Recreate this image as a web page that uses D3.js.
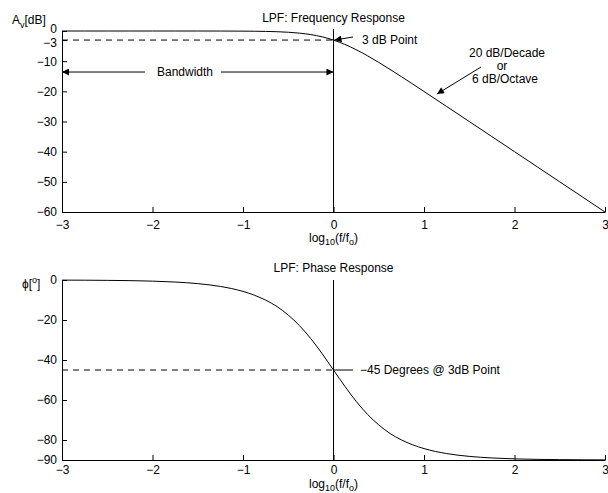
<!DOCTYPE html>
<html><head><meta charset="utf-8">
<script src="https://cdn.jsdelivr.net/npm/d3@7"></script>
<style>
body{margin:0;background:#fff;}
text{font-family:"Liberation Sans",Arial,sans-serif;font-size:12px;fill:#000;}
</style></head>
<body>
<script>
// ---- data ----
const xTicks = [-3, -2, -1, 0, 1, 2, 3];
const xTickLabels = ["\u22123", "\u22122", "\u22121", "0", "1", "2", "3"];
const magTicks = [0, -3, -10, -20, -30, -40, -50, -60];
const magTickLabels = ["0", "\u22123", "\u221210", "\u221220", "\u221230", "\u221240", "\u221250", "\u221260"];
const phaseTicks = [0, -20, -40, -60, -80, -90];
const phaseTickLabels = ["0", "\u221220", "\u221240", "\u221260", "\u221280", "\u221290"];
// sampled response: log10(f/fo), magnitude in dB, phase in degrees
const logF = [-3,-2.75,-2.5,-2.25,-2,-1.75,-1.5,-1.25,-1,-0.875,-0.75,-0.625,-0.5,-0.375,-0.25,-0.125,0,0.125,0.25,0.375,0.5,0.625,0.75,0.875,1,1.25,1.5,1.75,2,2.25,2.5,2.75,3];
const magDb = [0,0,0,-0.0001,-0.0004,-0.0014,-0.0043,-0.0137,-0.0432,-0.0766,-0.1352,-0.2376,-0.4139,-0.711,-1.193,-1.938,-3.0103,-4.437,-6.193,-8.21,-10.414,-12.737,-15.135,-17.576,-20.043,-25.014,-30.004,-35.001,-40.0004,-45.0001,-50,-55,-60];
const phaseDeg = [-0.06,-0.1,-0.18,-0.32,-0.57,-1.02,-1.81,-3.22,-5.71,-7.59,-10.06,-13.26,-17.55,-22.86,-29.36,-36.87,-45,-53.13,-60.64,-67.14,-72.45,-76.74,-79.94,-82.41,-84.29,-86.78,-88.19,-88.98,-89.43,-89.68,-89.82,-89.9,-89.94];

const W = 608, H = 493;
const svg = d3.select("body").append("svg").attr("width", W).attr("height", H);

const x = d3.scaleLinear().domain([-3, 3]).range([62, 605]);
const yMag = d3.scaleLinear().domain([-60, 0]).range([212, 31]);
const yPh = d3.scaleLinear().domain([-90, 0]).range([460, 280]);

svg.append("defs").append("marker").attr("id", "ah").attr("viewBox", "0 0 10 10")
  .attr("refX", 10).attr("refY", 5).attr("markerWidth", 10).attr("markerHeight", 7)
  .attr("markerUnits", "userSpaceOnUse").attr("orient", "auto-start-reverse")
  .append("path").attr("d", "M0,0 L10,5 L0,10 z").attr("fill", "#000");

function panel(y, yTicks, yLabels, yBottom, title, titleY, xlY, pad) {
  const g = svg.append("g");
  const xa = d3.axisBottom(x).tickValues(xTicks).tickFormat((d, i) => xTickLabels[i]).tickSizeInner(-5).tickSizeOuter(0).tickPadding(pad);
  const gx = g.append("g").attr("transform", `translate(0,${yBottom})`).call(xa);
  gx.selectAll("text").attr("font-size", 12).attr("fill", "#000").attr("font-family", "Liberation Sans, Arial, sans-serif");
  const ya = d3.axisLeft(y).tickValues(yTicks).tickFormat((d, i) => yLabels[i]).tickSizeInner(-5).tickSizeOuter(0).tickPadding(5);
  const gy = g.append("g").attr("transform", `translate(62,0)`).call(ya);
  gy.selectAll("text").attr("font-size", 12).attr("fill", "#000").attr("font-family", "Liberation Sans, Arial, sans-serif");
  g.append("text").attr("x", x(0)).attr("y", titleY).attr("text-anchor", "middle").text(title);
  const xl = g.append("text").attr("x", x(0)).attr("y", xlY).attr("text-anchor", "middle");
  xl.append("tspan").text("log");
  xl.append("tspan").attr("font-size", 9).attr("dy", 3).text("10");
  xl.append("tspan").attr("dy", -3).text("(f/f");
  xl.append("tspan").attr("font-size", 9).attr("dy", 3).text("o");
  xl.append("tspan").attr("dy", -3).text(")");
  return gy;
}

// ---- Top panel ----
const gyTop = panel(yMag, magTicks, magTickLabels, 212, "LPF: Frequency Response", 22, 242, 8);
// separate the close "0" and "−3" labels slightly
gyTop.selectAll(".tick text").attr("dy", (d) => d === 0 ? "0.1em" : d === -3 ? "0.5em" : "0.32em");
const al = svg.append("text").attr("x", 12).attr("y", 24);
al.append("tspan").text("A");
al.append("tspan").attr("font-size", 9).attr("dy", 4).text("v");
al.append("tspan").attr("dy", -4).text("[dB]");

svg.append("line").attr("x1", x(-3)).attr("x2", x(0)).attr("y1", yMag(-3)).attr("y2", yMag(-3))
  .attr("stroke", "#000").attr("stroke-dasharray", "6,5");
svg.append("line").attr("x1", x(0)).attr("x2", x(0)).attr("y1", yMag(0) - 2).attr("y2", yMag(-60)).attr("stroke", "#000");
const line1 = d3.line().x((d, i) => x(logF[i])).y(d => yMag(d)).curve(d3.curveMonotoneX);
svg.append("path").datum(magDb).attr("d", line1).attr("fill", "none").attr("stroke", "#000");
const bwY = yMag(-13.6);
svg.append("line").attr("x1", 145).attr("x2", x(-3)).attr("y1", bwY).attr("y2", bwY).attr("stroke", "#000").attr("marker-end", "url(#ah)");
svg.append("line").attr("x1", 221).attr("x2", x(0)).attr("y1", bwY).attr("y2", bwY).attr("stroke", "#000").attr("marker-end", "url(#ah)");
svg.append("text").attr("x", 185).attr("y", bwY + 4).attr("text-anchor", "middle").text("Bandwidth");
svg.append("line").attr("x1", 353).attr("y1", 37).attr("x2", x(0) + 1).attr("y2", yMag(-3)).attr("stroke", "#000").attr("marker-end", "url(#ah)");
svg.append("text").attr("x", 362).attr("y", 44).text("3 dB Point");
svg.append("text").attr("x", 507).attr("y", 57).attr("text-anchor", "middle").text("20 dB/Decade");
svg.append("text").attr("x", 502).attr("y", 70).attr("text-anchor", "middle").text("or");
svg.append("text").attr("x", 505).attr("y", 83).attr("text-anchor", "middle").text("6 dB/Octave");
svg.append("line").attr("x1", 481).attr("y1", 67).attr("x2", 437).attr("y2", 94).attr("stroke", "#000").attr("marker-end", "url(#ah)");

// ---- Bottom panel ----
panel(yPh, phaseTicks, phaseTickLabels, 460, "LPF: Phase Response", 272, 488, 5);
const pl = svg.append("text").attr("x", 22).attr("y", 288);
pl.append("tspan").text("\u03d5[");
pl.append("tspan").attr("font-size", 9).attr("dy", -5).text("o");
pl.append("tspan").attr("dy", 5).text("]");

svg.append("line").attr("x1", x(-3)).attr("x2", x(0)).attr("y1", yPh(-45)).attr("y2", yPh(-45))
  .attr("stroke", "#000").attr("stroke-dasharray", "6,5");
svg.append("line").attr("x1", x(0)).attr("x2", 353).attr("y1", yPh(-45)).attr("y2", yPh(-45)).attr("stroke", "#000");
svg.append("text").attr("x", 360).attr("y", yPh(-45) + 4).text("\u221245 Degrees @ 3dB Point");
svg.append("line").attr("x1", x(0)).attr("x2", x(0)).attr("y1", yPh(0)).attr("y2", yPh(-90)).attr("stroke", "#000");
const line2 = d3.line().x((d, i) => x(logF[i])).y(d => yPh(d)).curve(d3.curveMonotoneX);
svg.append("path").datum(phaseDeg).attr("d", line2).attr("fill", "none").attr("stroke", "#000");
</script>
</body></html>
